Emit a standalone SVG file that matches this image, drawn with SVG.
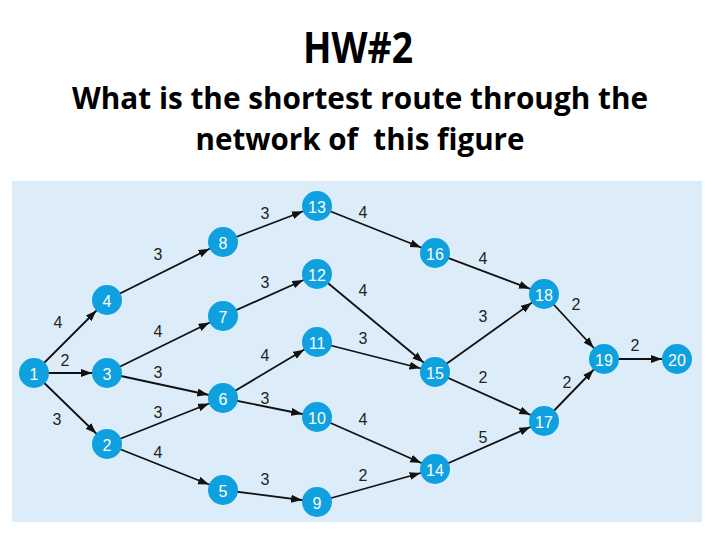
<svg xmlns="http://www.w3.org/2000/svg" width="720" height="540" viewBox="0 0 720 540">
<style>
.title{font-family:"Open Sans","Noto Sans","Liberation Sans",sans-serif;font-weight:700;fill:#000;text-anchor:middle;white-space:pre}
.edge{stroke:#111;stroke-width:1.8;fill:none;marker-end:url(#arr)}
.node circle{fill:#0fa0e0}
.node text{font-family:"Liberation Sans",Arial,sans-serif;font-size:16px;fill:#fff;text-anchor:middle;dominant-baseline:central}
.lbl{font-family:"Liberation Sans",Arial,sans-serif;font-size:16px;fill:#222;text-anchor:middle;dominant-baseline:central}
</style>
<defs>
<marker id="arr" markerUnits="userSpaceOnUse" markerWidth="30" markerHeight="10" refX="26" refY="4" orient="auto">
<path d="M0,0 L11,4 L0,8 z" fill="#111"/>
</marker>
</defs>
<rect width="720" height="540" fill="#fff"/>
<text class="title" x="358" y="63" font-size="43" textLength="110" lengthAdjust="spacingAndGlyphs">HW#2</text>
<text class="title" x="360" y="109" font-size="31" textLength="576" lengthAdjust="spacingAndGlyphs">What is the shortest route through the</text>
<text class="title" x="360" y="150" font-size="31" textLength="329" lengthAdjust="spacingAndGlyphs" xml:space="preserve">network of  this figure</text>
<rect x="12" y="181" width="690" height="341" fill="#dcedf9"/>
<g id="connectors">
<line class="edge" x1="34" y1="373" x2="107" y2="300"/>
<line class="edge" x1="34" y1="373" x2="107" y2="373"/>
<line class="edge" x1="34" y1="373" x2="107" y2="444"/>
<line class="edge" x1="107" y1="300" x2="223" y2="242"/>
<line class="edge" x1="107" y1="373" x2="223" y2="316"/>
<line class="edge" x1="107" y1="373" x2="223" y2="398"/>
<line class="edge" x1="107" y1="444" x2="223" y2="398"/>
<line class="edge" x1="107" y1="444" x2="223" y2="490"/>
<line class="edge" x1="223" y1="242" x2="317" y2="206"/>
<line class="edge" x1="223" y1="316" x2="317" y2="274"/>
<line class="edge" x1="223" y1="398" x2="317" y2="342"/>
<line class="edge" x1="223" y1="398" x2="317" y2="417"/>
<line class="edge" x1="223" y1="490" x2="317" y2="502"/>
<line class="edge" x1="317" y1="206" x2="435" y2="253"/>
<line class="edge" x1="317" y1="274" x2="435" y2="372"/>
<line class="edge" x1="317" y1="342" x2="435" y2="372"/>
<line class="edge" x1="317" y1="417" x2="435" y2="469"/>
<line class="edge" x1="317" y1="502" x2="435" y2="469"/>
<line class="edge" x1="435" y1="253" x2="544" y2="294"/>
<line class="edge" x1="435" y1="372" x2="544" y2="294"/>
<line class="edge" x1="435" y1="372" x2="544" y2="421"/>
<line class="edge" x1="435" y1="469" x2="544" y2="421"/>
<line class="edge" x1="544" y1="294" x2="604" y2="359"/>
<line class="edge" x1="544" y1="421" x2="604" y2="359"/>
<line class="edge" x1="604" y1="359" x2="677" y2="359"/>
</g>
<g id="labels">
<text class="lbl" x="58" y="322">4</text>
<text class="lbl" x="65" y="360">2</text>
<text class="lbl" x="57" y="419">3</text>
<text class="lbl" x="158" y="254">3</text>
<text class="lbl" x="158" y="331">4</text>
<text class="lbl" x="158" y="372">3</text>
<text class="lbl" x="158" y="412">3</text>
<text class="lbl" x="158" y="452">4</text>
<text class="lbl" x="265" y="213">3</text>
<text class="lbl" x="265" y="282">3</text>
<text class="lbl" x="265" y="355">4</text>
<text class="lbl" x="265" y="398">3</text>
<text class="lbl" x="265" y="479">3</text>
<text class="lbl" x="363" y="212">4</text>
<text class="lbl" x="363" y="290">4</text>
<text class="lbl" x="363" y="338">3</text>
<text class="lbl" x="363" y="419">4</text>
<text class="lbl" x="363" y="475">2</text>
<text class="lbl" x="483" y="258">4</text>
<text class="lbl" x="483" y="316">3</text>
<text class="lbl" x="483" y="377">2</text>
<text class="lbl" x="483" y="437">5</text>
<text class="lbl" x="576" y="304">2</text>
<text class="lbl" x="567" y="382">2</text>
<text class="lbl" x="635" y="345">2</text>
</g>
<g id="n1" class="node"><circle cx="34" cy="373" r="15"/><text x="34" y="374">1</text></g>
<g id="n2" class="node"><circle cx="107" cy="444" r="15"/><text x="107" y="445">2</text></g>
<g id="n3" class="node"><circle cx="107" cy="373" r="15"/><text x="107" y="374">3</text></g>
<g id="n4" class="node"><circle cx="107" cy="300" r="15"/><text x="107" y="301">4</text></g>
<g id="n5" class="node"><circle cx="223" cy="490" r="15"/><text x="223" y="491">5</text></g>
<g id="n6" class="node"><circle cx="223" cy="398" r="15"/><text x="223" y="399">6</text></g>
<g id="n7" class="node"><circle cx="223" cy="316" r="15"/><text x="223" y="317">7</text></g>
<g id="n8" class="node"><circle cx="223" cy="242" r="15"/><text x="223" y="243">8</text></g>
<g id="n9" class="node"><circle cx="317" cy="502" r="15"/><text x="317" y="503">9</text></g>
<g id="n10" class="node"><circle cx="317" cy="417" r="15"/><text x="317" y="418">10</text></g>
<g id="n11" class="node"><circle cx="317" cy="342" r="15"/><text x="317" y="343">11</text></g>
<g id="n12" class="node"><circle cx="317" cy="274" r="15"/><text x="317" y="275">12</text></g>
<g id="n13" class="node"><circle cx="317" cy="206" r="15"/><text x="317" y="207">13</text></g>
<g id="n14" class="node"><circle cx="435" cy="469" r="15"/><text x="435" y="470">14</text></g>
<g id="n15" class="node"><circle cx="435" cy="372" r="15"/><text x="435" y="373">15</text></g>
<g id="n16" class="node"><circle cx="435" cy="253" r="15"/><text x="435" y="254">16</text></g>
<g id="n17" class="node"><circle cx="544" cy="421" r="15"/><text x="544" y="422">17</text></g>
<g id="n18" class="node"><circle cx="544" cy="294" r="15"/><text x="544" y="295">18</text></g>
<g id="n19" class="node"><circle cx="604" cy="359" r="15"/><text x="604" y="360">19</text></g>
<g id="n20" class="node"><circle cx="677" cy="359" r="15"/><text x="677" y="360">20</text></g>
</svg>
